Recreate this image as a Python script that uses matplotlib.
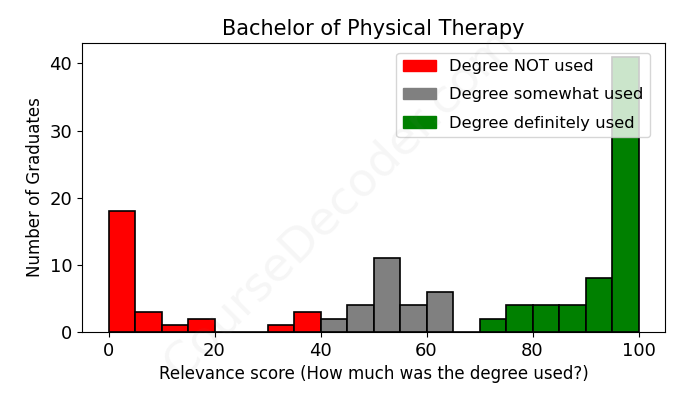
import numpy as np
import matplotlib.pyplot as plt
from matplotlib.patches import Patch

# bin edges and counts
bin_left = [0, 5, 10, 15, 20, 25, 30, 35, 40, 45, 50, 55, 60, 65, 70, 75, 80, 85, 90, 95]
counts = [18, 3, 1, 2, 0, 0, 1, 3, 2, 4, 11, 4, 6, 0, 2, 4, 4, 4, 8, 41]
groups = ["Degree NOT used", "Degree somewhat used", "Degree definitely used"]
group_colors = ["red", "gray", "green"]
group_ranges = [(0, 40), (40, 70), (70, 100)]

fig = plt.figure(figsize=(6.78, 4.08), dpi=100)
ax = fig.add_axes([82 / 678, 1 - 332 / 408, (665 - 82) / 678, (332 - 43) / 408])

left = np.array(bin_left)
cnt = np.array(counts)
for col, (lo, hi) in zip(group_colors, group_ranges):
    m = (left >= lo) & (left < hi)
    ax.bar(left[m], cnt[m], width=5, align="edge", color=col,
           edgecolor="black", linewidth=1.2)

ax.set_title("Bachelor of Physical Therapy", fontsize=15)
ax.set_xlabel("Relevance score (How much was the degree used?)", fontsize=12)
ax.set_ylabel("Number of Graduates", fontsize=12)
ax.tick_params(labelsize=13)
handles = [Patch(color=c, label=g) for g, c in zip(groups, group_colors)]
ax.legend(handles=handles, loc="upper right", fontsize=11.8, labelspacing=0.8,
          bbox_to_anchor=(0.974, 0.966), borderaxespad=0)

fig.text(0.5, 0.5, "CourseDecoder.com", fontsize=34, color="gray", alpha=0.07,
         rotation=45, ha="center", va="center")

fig.savefig("out.png", dpi=100)
